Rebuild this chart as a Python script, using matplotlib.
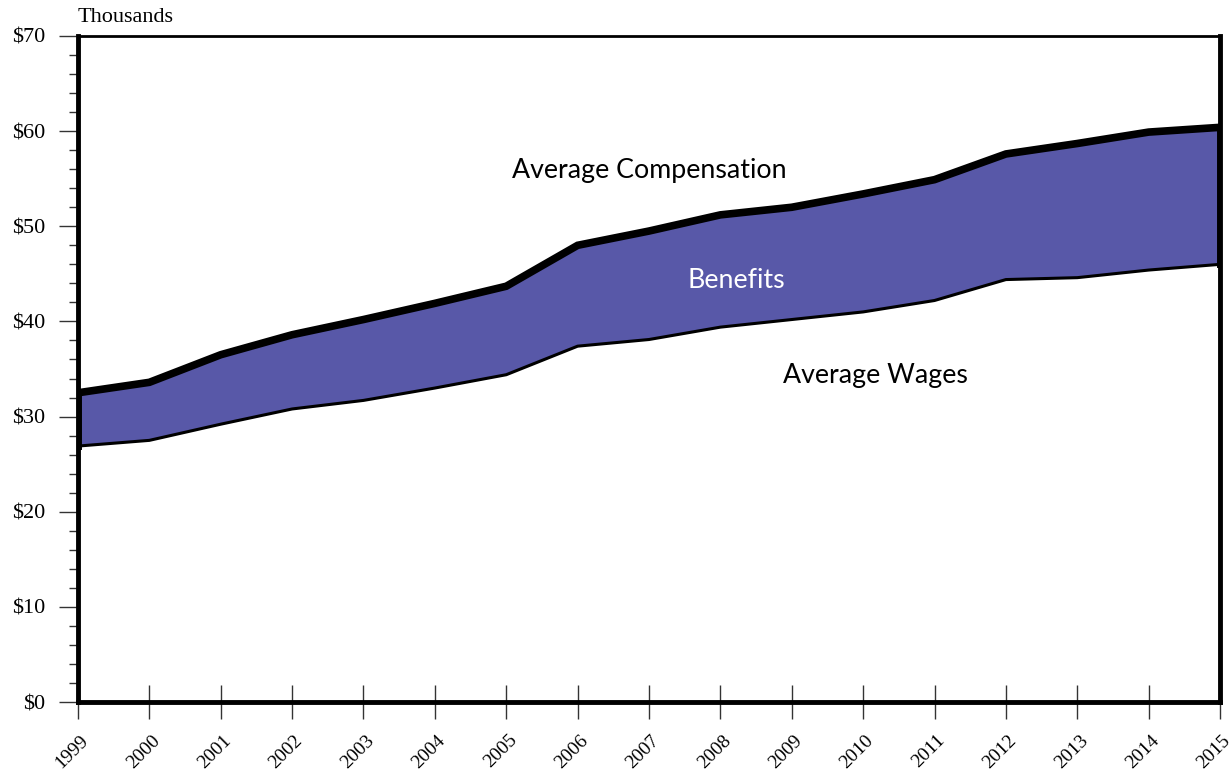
import matplotlib
matplotlib.use("Agg")
import matplotlib.pyplot as plt
import matplotlib.transforms as mtransforms
from matplotlib.ticker import MultipleLocator, FuncFormatter

years = list(range(1999, 2016))
compensation = [32.5, 33.6, 36.5, 38.6, 40.2, 41.9, 43.7, 48.0, 49.5, 51.2, 52.0, 53.4, 54.9, 57.6, 58.7, 59.9, 60.4]
wages = [26.9, 27.5, 29.2, 30.8, 31.7, 33.0, 34.4, 37.4, 38.1, 39.4, 40.2, 41.0, 42.2, 44.4, 44.6, 45.4, 46.0]

fig = plt.figure(figsize=(12.3, 7.74), dpi=100)
ax = fig.add_axes([0.0634, 0.093, 0.9285, 0.8605])

ax.fill_between(years, wages, compensation, facecolor="#5858a8", edgecolor="none", zorder=2)
ax.plot(years, compensation, color="black", lw=5.5, solid_joinstyle="miter", zorder=3)
ax.plot(years, wages, color="black", lw=2.2, zorder=3)
ax.plot([years[0], years[0]], [wages[0], compensation[0]], color="black", lw=5, zorder=3)
ax.plot([years[-1], years[-1]], [wages[-1], compensation[-1]], color="black", lw=5, zorder=3)

ax.set_xlim(years[0], years[-1])
ax.set_ylim(0, 70)

for side in ["left", "bottom", "right"]:
    ax.spines[side].set_linewidth(3.5)
ax.spines["top"].set_linewidth(2)
for s in ax.spines.values():
    s.set_zorder(4)

ax.yaxis.set_major_locator(MultipleLocator(10))
ax.yaxis.set_minor_locator(MultipleLocator(2))
ax.yaxis.set_major_formatter(FuncFormatter(lambda v, p: f"${int(v)}"))
ax.tick_params(axis="y", which="major", direction="out", length=13.5, width=1, color="#333333",
               labelsize=16, pad=10)
ax.tick_params(axis="y", which="minor", direction="out", length=6.5, width=1, color="#333333")
ax.set_xticks(years)
ax.set_xticklabels([str(y) for y in years], rotation=45, ha="right", rotation_mode="anchor")
ax.tick_params(axis="x", which="major", direction="inout", length=24, width=1, color="#333333",
               labelsize=14, pad=0)
for lbl in ax.get_xticklabels() + ax.get_yticklabels():
    lbl.set_fontfamily("Liberation Serif")
for lbl in ax.get_xticklabels():
    lbl.set_transform(lbl.get_transform() + mtransforms.ScaledTranslation(2/100, -13/100, fig.dpi_scale_trans))

fig.text(0.0634, 0.978, "Thousands", family="Liberation Serif", fontsize=16, ha="left", va="center")

ax.text(2007.0, 55.9, "Average Compensation", family="Lato", fontsize=19.3, ha="center", va="center", zorder=5)
ax.text(2008.23, 44.25, "Benefits", family="Lato", fontsize=19.3, ha="center", va="center", color="white", zorder=5)
ax.text(2010.17, 34.3, "Average Wages", family="Lato", fontsize=19.3, ha="center", va="center", zorder=5)

fig.savefig("out.png", dpi=100)
